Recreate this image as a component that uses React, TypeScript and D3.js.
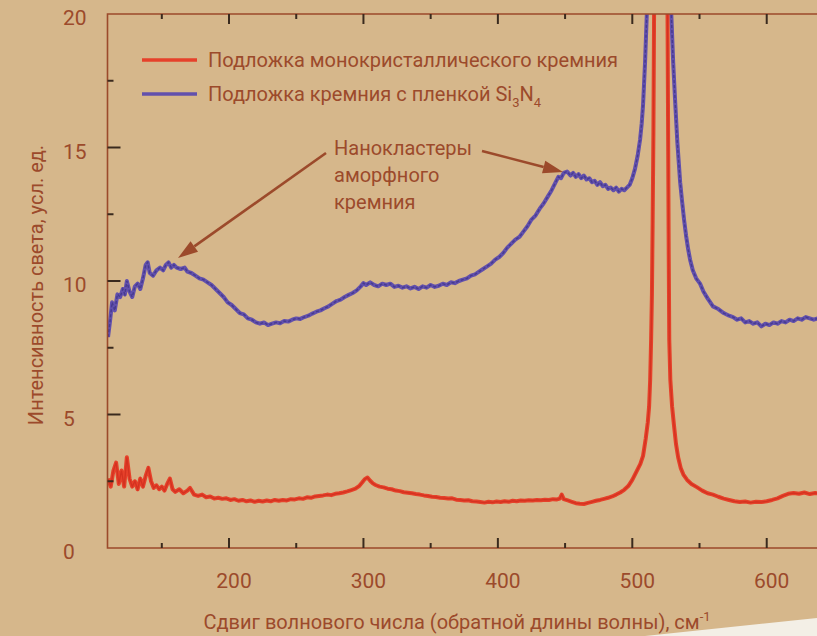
import React, { useEffect, useRef } from "react";
import * as d3 from "d3";

const W = 817;
const H = 636;

// [raman shift, intensity] - monocrystalline Si substrate (red)
const monoSi: [number, number][] = [
  [110, 2.6], [112, 2.3], [114, 2.9], [116, 3.2], [118, 2.4], [120, 2.9], [122, 2.3], [124, 3.4],
  [126, 2.6], [128, 2.3], [130, 2.5], [132, 2.2], [134, 2.6], [136, 2.3], [138, 2.7], [140, 3.0],
  [142, 2.5], [144, 2.25], [146, 2.35], [148, 2.2], [150, 2.3], [152, 2.15], [154, 2.4], [156, 2.6],
  [158, 2.2], [160, 2.1], [163, 2.2], [166, 2.05], [169, 2.15], [171, 2.25], [174, 2.0], [177, 1.95],
  [180, 2.0], [183, 1.9], [186, 1.93], [189, 1.85], [192, 1.88], [195, 1.84], [198, 1.86], [201, 1.8],
  [204, 1.83], [207, 1.77], [210, 1.8], [213, 1.75], [216, 1.78], [219, 1.73], [222, 1.77], [225, 1.74],
  [228, 1.78], [231, 1.75], [234, 1.8], [237, 1.77], [240, 1.8], [243, 1.78], [246, 1.83], [249, 1.82],
  [252, 1.86], [255, 1.84], [258, 1.9], [261, 1.88], [264, 1.93], [267, 1.95], [270, 1.97], [273, 2.0],
  [276, 1.98], [279, 2.03], [282, 2.05], [285, 2.08], [288, 2.12], [291, 2.17], [294, 2.22], [297, 2.33],
  [299, 2.45], [301, 2.58], [303, 2.64], [305, 2.52], [307, 2.42], [309, 2.36], [312, 2.3], [315, 2.27],
  [318, 2.22], [321, 2.2], [324, 2.15], [327, 2.13], [330, 2.09], [333, 2.07], [336, 2.05], [339, 2.02],
  [342, 2.0], [345, 1.97], [348, 1.95], [351, 1.92], [354, 1.91], [357, 1.88], [360, 1.87], [363, 1.85],
  [366, 1.86], [369, 1.81], [372, 1.8], [375, 1.78], [378, 1.79], [381, 1.75], [384, 1.74], [387, 1.72],
  [390, 1.7], [393, 1.73], [396, 1.71], [399, 1.74], [402, 1.72], [405, 1.75], [408, 1.73], [411, 1.77],
  [414, 1.75], [417, 1.78], [420, 1.77], [423, 1.79], [426, 1.78], [429, 1.8], [432, 1.79], [435, 1.81],
  [438, 1.8], [441, 1.83], [444, 1.82], [446, 1.85], [447.5, 2.0], [449, 1.83], [452, 1.78], [455, 1.73],
  [458, 1.68], [461, 1.66], [464, 1.65], [467, 1.69], [470, 1.73], [473, 1.77], [476, 1.8], [479, 1.84],
  [482, 1.88], [485, 1.93], [488, 2.0], [491, 2.08], [494, 2.18], [497, 2.32], [500, 2.55], [503, 2.85],
  [506, 3.15], [508, 3.45], [510, 4.1], [511.5, 4.7], [512.5, 5.3], [513.3, 6.3], [514, 7.8], [514.6, 9.5],
  [515.1, 12], [515.7, 15.5], [516.2, 20], [516.8, 26], [520.8, 60], [525.5, 26], [526.2, 20], [526.7, 15],
  [527.1, 11], [527.5, 7.8], [528.3, 6.3], [529.6, 5.3], [531, 4.6], [532.5, 3.9], [534.1, 3.4], [536, 3.0],
  [538, 2.75], [540.8, 2.55], [544, 2.4], [548, 2.28], [552, 2.15], [556, 2.05], [560, 2.0], [564, 1.92],
  [568, 1.85], [572, 1.8], [576, 1.75], [580, 1.72], [584, 1.74], [588, 1.7], [592, 1.73], [596, 1.72],
  [600, 1.75], [604, 1.8], [608, 1.86], [612, 1.95], [616, 2.03], [620, 2.06], [624, 2.03], [628, 2.08],
  [632, 2.02], [636, 2.06], [638, 2.05],
];

// [raman shift, intensity] - Si substrate with Si3N4 film (blue)
const filmSi: [number, number][] = [
  [110, 7.9], [111.5, 8.5], [113, 9.2], [115, 8.9], [117, 9.5], [119, 9.4], [121, 9.7], [122.5, 9.5],
  [124, 10.0], [126, 9.6], [128, 9.4], [130, 9.8], [132, 9.9], [134, 9.7], [136, 10.1], [138, 10.6],
  [139.5, 10.7], [141, 10.3], [143.5, 10.2], [146, 10.4], [148.7, 10.5], [151, 10.4], [153, 10.6], [155, 10.7],
  [157, 10.5], [159, 10.6], [161, 10.5], [164, 10.45], [167, 10.5], [169, 10.35], [172, 10.3], [175, 10.2],
  [178, 10.1], [181, 10.05], [184, 9.95], [187, 9.85], [190, 9.7], [193, 9.55], [196, 9.4], [199, 9.2],
  [202, 9.1], [205, 8.95], [208, 8.8], [211, 8.75], [214, 8.6], [217, 8.55], [220, 8.45], [223, 8.4],
  [226, 8.45], [229, 8.35], [232, 8.4], [235, 8.45], [238, 8.42], [241, 8.5], [244, 8.48], [247, 8.55],
  [250, 8.6], [253, 8.58], [256, 8.65], [259, 8.7], [262, 8.78], [265, 8.85], [268, 8.9], [271, 8.98],
  [274, 9.05], [277, 9.15], [280, 9.25], [283, 9.3], [286, 9.4], [289, 9.48], [292, 9.55], [295, 9.65],
  [298, 9.8], [300, 9.92], [302, 9.85], [305, 9.95], [308, 9.85], [311, 9.8], [314, 9.9], [317, 9.85],
  [320, 9.9], [323, 9.78], [326, 9.82], [329, 9.75], [332, 9.8], [335, 9.72], [338, 9.78], [341, 9.7],
  [344, 9.8], [347, 9.75], [350, 9.85], [353, 9.78], [356, 9.82], [359, 9.9], [362, 9.85], [365, 9.95],
  [368, 9.92], [371, 10.0], [374, 10.05], [377, 10.1], [380, 10.2], [383, 10.25], [386, 10.35], [389, 10.45],
  [392, 10.55], [395, 10.65], [398, 10.8], [401, 10.9], [404, 11.05], [407, 11.25], [410, 11.4], [413, 11.55],
  [416, 11.65], [419, 11.85], [422, 12.05], [425, 12.3], [428, 12.45], [431, 12.7], [434, 12.9], [437, 13.15],
  [440, 13.4], [443, 13.7], [445, 13.9], [447, 13.85], [449, 14.05], [451.5, 14.1], [454, 13.95], [456, 14.05],
  [458, 13.9], [460, 14.0], [462, 13.85], [464, 13.95], [466, 13.8], [468, 13.85], [470, 13.7], [472, 13.75],
  [474, 13.6], [476, 13.7], [478, 13.55], [480, 13.6], [482, 13.45], [484, 13.5], [486, 13.4], [488, 13.5],
  [490, 13.35], [492, 13.45], [494, 13.4], [496, 13.5], [498, 13.6], [500, 13.85], [502, 14.2], [504, 14.7],
  [505.8, 15.3], [507, 15.9], [508, 16.6], [509.5, 18.2], [510.8, 20], [512, 23], [520.5, 70], [527.5, 23],
  [529, 20], [530.4, 18.2], [531.8, 16.8], [533.5, 15.2], [535.6, 13.7], [537, 13.0], [538.5, 12.3], [540, 11.7],
  [541.5, 11.2], [543, 10.8], [545, 10.4], [547.5, 10.1], [550.4, 9.9], [553, 9.6], [556, 9.35], [560, 9.05],
  [564, 8.95], [568, 8.8], [572, 8.7], [575, 8.65], [578, 8.55], [581, 8.6], [584, 8.45], [587, 8.5],
  [590, 8.4], [593, 8.45], [596, 8.3], [599, 8.4], [602, 8.35], [605, 8.45], [608, 8.4], [611, 8.5],
  [614, 8.45], [617, 8.55], [620, 8.5], [623, 8.6], [626, 8.55], [629, 8.65], [632, 8.6], [635, 8.55],
  [638, 8.6],
];

const xMajor = [200, 300, 400, 500, 600];
const xMinor = [150, 250, 350, 450, 550];
const yMajor = [0, 5, 10, 15, 20];
const yMinor = [2.5, 7.5, 12.5, 17.5];

const BG = "#d6b78b";
const BROWN = "#9c4a2b";
const TICK = "#3a2a1e";
const RED = "#e6412a";
const BLUE = "#6250ad";
const FONT = "Roboto, 'Liberation Sans', sans-serif";

export default function App() {
  const ref = useRef<SVGSVGElement>(null);

  useEffect(() => {
    const svg = d3.select(ref.current);
    svg.selectAll("*").remove();

    const x = d3.scaleLinear().domain([109.6, 637.4]).range([107.5, 817]);
    const y = d3.scaleLinear().domain([0, 20]).range([548, 14]);
    const [x0, x1] = x.range();
    const [y0, y1] = y.range();

    svg.append("rect").attr("width", W).attr("height", H).attr("fill", BG);
    // light paper edge in the bottom-right corner
    svg.append("polygon")
      .attr("points", `645,636 817,618 817,636`)
      .attr("fill", "#f3efe6");

    svg.append("defs").append("clipPath").attr("id", "plot")
      .append("rect").attr("x", x0).attr("y", y1).attr("width", x1 - x0).attr("height", y0 - y1);

    const line = d3.line<[number, number]>().x(d => x(d[0])).y(d => y(d[1]));
    const g = svg.append("g").attr("clip-path", "url(#plot)");

    g.append("path").attr("d", line(filmSi)).attr("fill", "none")
      .attr("stroke", BLUE).attr("stroke-width", 4).attr("stroke-linejoin", "round");
    g.append("path").attr("d", line(filmSi)).attr("fill", "none")
      .attr("stroke", "#3b3282").attr("stroke-width", 1.4).attr("stroke-opacity", 0.7)
      .attr("stroke-dasharray", "3 2");
    g.append("path").attr("d", line(monoSi)).attr("fill", "none")
      .attr("stroke", RED).attr("stroke-width", 4).attr("stroke-linejoin", "round");
    g.append("path").attr("d", line(monoSi)).attr("fill", "none")
      .attr("stroke", "#c8281a").attr("stroke-width", 1.3).attr("stroke-opacity", 0.6);

    // frame
    svg.append("path")
      .attr("d", `M${x1},${y1}H${x0}V${y0}H${x1}`)
      .attr("fill", "none").attr("stroke", BROWN).attr("stroke-width", 1.6);

    // ticks (inward)
    const ticks = svg.append("g").attr("stroke", TICK).attr("stroke-width", 2);
    xMajor.forEach(v => {
      ticks.append("line").attr("x1", x(v)).attr("x2", x(v)).attr("y1", y0).attr("y2", y0 - 10);
      ticks.append("line").attr("x1", x(v)).attr("x2", x(v)).attr("y1", y1).attr("y2", y1 + 10);
    });
    xMinor.forEach(v => {
      ticks.append("line").attr("x1", x(v)).attr("x2", x(v)).attr("y1", y0).attr("y2", y0 - 5);
      ticks.append("line").attr("x1", x(v)).attr("x2", x(v)).attr("y1", y1).attr("y2", y1 + 5);
    });
    yMajor.filter(v => v > 0 && v < 20).forEach(v => {
      ticks.append("line").attr("x1", x0).attr("x2", x0 + 13).attr("y1", y(v)).attr("y2", y(v));
    });
    yMinor.forEach(v => {
      ticks.append("line").attr("x1", x0).attr("x2", x0 + 6).attr("y1", y(v)).attr("y2", y(v));
    });

    const txt = svg.append("g").attr("fill", BROWN).attr("font-family", FONT);

    txt.selectAll(".yl").data(yMajor).join("text")
      .attr("x", 63).attr("y", d => y(d) + 11)
      .attr("font-size", 21).text(d => d);
    txt.selectAll(".xl").data(xMajor).join("text")
      .attr("x", d => x(d) + 5).attr("y", 588).attr("text-anchor", "middle")
      .attr("font-size", 21).text(d => d);

    // axis titles
    const xt = txt.append("text").attr("x", 457).attr("y", 629).attr("text-anchor", "middle")
      .attr("font-size", 20);
    xt.append("tspan").text("Сдвиг волнового числа (обратной длины волны), см");
    xt.append("tspan").attr("dy", -8).attr("font-size", 13).text("-1");

    txt.append("text").attr("transform", "translate(43,285) rotate(-90)")
      .attr("text-anchor", "middle").attr("font-size", 20)
      .text("Интенсивность света, усл. ед.");

    // legend
    svg.append("line").attr("x1", 142).attr("x2", 197).attr("y1", 60).attr("y2", 60)
      .attr("stroke", RED).attr("stroke-width", 3.5);
    svg.append("line").attr("x1", 142).attr("x2", 197).attr("y1", 94).attr("y2", 94)
      .attr("stroke", BLUE).attr("stroke-width", 3.5);
    txt.append("text").attr("x", 208).attr("y", 67).attr("font-size", 20)
      .text("Подложка монокристаллического кремния");
    const l2 = txt.append("text").attr("x", 208).attr("y", 101).attr("font-size", 20);
    l2.append("tspan").text("Подложка кремния с пленкой Si");
    l2.append("tspan").attr("dy", 6).attr("font-size", 13).text("3");
    l2.append("tspan").attr("dy", -6).text("N");
    l2.append("tspan").attr("dy", 6).attr("font-size", 13).text("4");

    // annotation
    const ann = txt.append("text").attr("font-size", 20);
    ["Нанокластеры", "аморфного", "кремния"].forEach((s, i) => {
      ann.append("tspan").attr("x", 334).attr("y", 155 + i * 27).text(s);
    });

    const arrow = (xa: number, ya: number, xb: number, yb: number) => {
      const ang = Math.atan2(yb - ya, xb - xa);
      const len = 20, half = 6.5;
      const bx = xb - len * Math.cos(ang), by = yb - len * Math.sin(ang);
      svg.append("line").attr("x1", xa).attr("y1", ya).attr("x2", bx).attr("y2", by)
        .attr("stroke", BROWN).attr("stroke-width", 2.6);
      svg.append("polygon")
        .attr("points", [
          [xb, yb],
          [bx + half * Math.sin(ang), by - half * Math.cos(ang)],
          [bx - half * Math.sin(ang), by + half * Math.cos(ang)],
        ].map(p => p.join(",")).join(" "))
        .attr("fill", BROWN);
    };
    arrow(326, 153, 178, 258);
    arrow(482, 151, 563, 172);
  }, []);

  return (
    <svg ref={ref} width={W} height={H}
      style={{ display: "block", position: "absolute", left: 0, top: 0 }} />
  );
}
